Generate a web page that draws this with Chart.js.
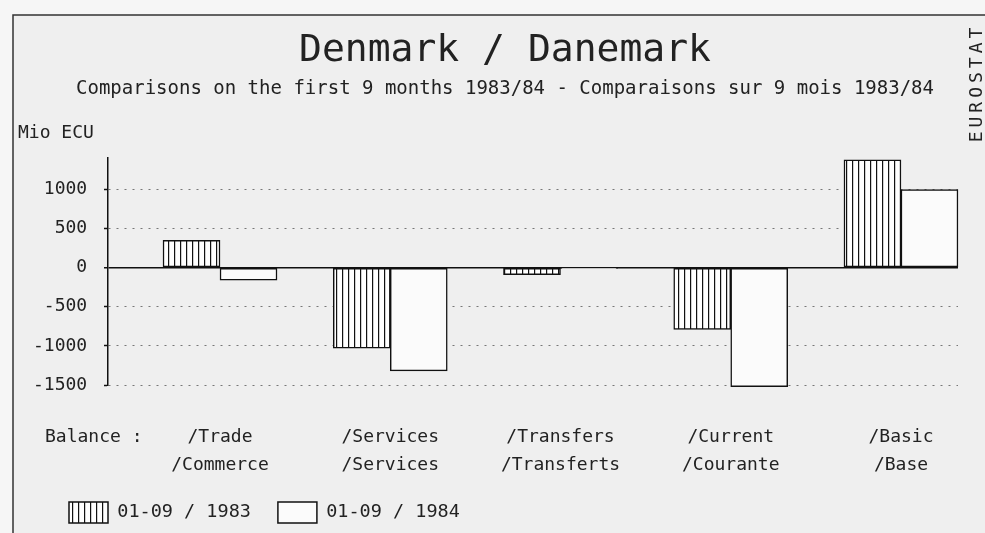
<!DOCTYPE html>
<html lang="en">
<head>
  <meta charset="UTF-8" />
  <title>Denmark / Danemark</title>
  <script src="https://cdn.jsdelivr.net/npm/chart.js"></script>
  <style>
    html, body { margin: 0; padding: 0; background: #f6f6f6; }
  </style>
</head>
<body>
<canvas id="balanceChart" width="985" height="533"></canvas>

<script>
// data (Mio ECU)
const categories = [
  ["/Trade", "/Commerce"],
  ["/Services", "/Services"],
  ["/Transfers", "/Transferts"],
  ["/Current", "/Courante"],
  ["/Basic", "/Base"]
];
const catPositions = [1, 2, 3, 4, 5];
const values1983 = [350, -1030, -90, -790, 1380];
const values1984 = [-160, -1320, -10, -1520, 1000];
const yTicks = [1000, 500, 0, -500, -1000, -1500];
const seriesLabels = ["01-09 / 1983", "01-09 / 1984"];

const MONO = '"DejaVu Sans Mono", "Liberation Mono", monospace';
const INK = '#222';

// vertical hatching for the 1983 bars
function hatch() {
  const c = document.createElement('canvas');
  c.width = 6; c.height = 6;
  const g = c.getContext('2d');
  g.fillStyle = '#fff';
  g.fillRect(0, 0, 6, 6);
  g.fillStyle = '#111';
  g.fillRect(0, 0, 1.2, 6);
  return g.createPattern(c, 'repeat');
}

// frame + loose texts that are not part of an axis
const extras = {
  id: 'extras',
  beforeDraw(chart) {
    const { ctx, width, height } = chart;
    ctx.save();
    ctx.fillStyle = '#f6f6f6';
    ctx.fillRect(0, 0, width, height);
    ctx.fillStyle = '#efefef';
    ctx.fillRect(13, 15, width - 13, height - 15);
    ctx.strokeStyle = '#333';
    ctx.lineWidth = 1.5;
    ctx.beginPath();
    ctx.moveTo(13, height);
    ctx.lineTo(13, 15);
    ctx.lineTo(width, 15);
    ctx.stroke();
    ctx.restore();
  },
  afterDraw(chart) {
    const ctx = chart.ctx;
    ctx.save();
    ctx.fillStyle = INK;
    ctx.font = '18px ' + MONO;
    ctx.textBaseline = 'middle';
    ctx.textAlign = 'left';
    ctx.fillText('Mio ECU', 18, 133);
    ctx.fillText('Balance :', 45, 437);

    ctx.translate(977, 83);
    ctx.rotate(-Math.PI / 2);
    ctx.textAlign = 'center';
    ctx.letterSpacing = '4px';
    ctx.fillText('EUROSTAT', 0, 0);
    ctx.restore();
  }
};

const ctx = document.getElementById('balanceChart').getContext('2d');
new Chart(ctx, {
  type: 'bar',
  data: {
    datasets: [
      {
        label: seriesLabels[0],
        data: catPositions.map((x, i) => ({ x, y: values1983[i] })),
        backgroundColor: hatch(),
        borderColor: '#111',
        borderWidth: 1.5,
        borderSkipped: false,
        barThickness: 57,
        clip: false
      },
      {
        label: seriesLabels[1],
        data: catPositions.map((x, i) => ({ x, y: values1984[i] })),
        backgroundColor: '#fbfbfb',
        borderColor: '#111',
        borderWidth: 1.5,
        borderSkipped: false,
        barThickness: 57,
        clip: false
      }
    ]
  },
  options: {
    responsive: false,
    animation: false,
    layout: { padding: { left: 42, right: 17, top: 10, bottom: 0 } },
    plugins: {
      title: {
        display: true,
        text: 'Denmark / Danemark',
        color: INK,
        font: { family: MONO, size: 38, weight: 'normal', lineHeight: 1.2 },
        padding: { top: 18, bottom: 0 }
      },
      subtitle: {
        display: true,
        text: 'Comparisons on the first 9 months 1983/84 - Comparaisons sur 9 mois 1983/84',
        color: INK,
        font: { family: MONO, size: 19, weight: 'normal', lineHeight: 1.2 },
        padding: { top: 4, bottom: 57 }
      },
      legend: {
        position: 'bottom',
        align: 'start',
        labels: {
          boxWidth: 39,
          boxHeight: 21,
          padding: 27,
          color: INK,
          font: { family: MONO, size: 18.5 }
        }
      },
      tooltip: { enabled: false }
    },
    scales: {
      x: {
        type: 'linear',
        offset: false,
        min: 0.342,
        max: 5.335,
        afterBuildTicks: s => { s.ticks = catPositions.map(v => ({ value: v })); },
        afterFit: s => { s.height = 90; },
        grid: { display: false, drawTicks: false, offset: false },
        border: { display: false },
        ticks: {
          autoSkip: false,
          maxRotation: 0,
          padding: 38,
          color: INK,
          font: { family: MONO, size: 18, lineHeight: 1.555 },
          callback: (v, i) => categories[i]
        }
      },
      y: {
        min: -1500,
        max: 1410,
        afterBuildTicks: s => { s.ticks = yTicks.map(v => ({ value: v })); },
        afterFit: s => { s.width = 66; },
        grid: {
          color: c => (c.tick && c.tick.value === 0) ? '#111' : '#777',
          lineWidth: c => (c.tick && c.tick.value === 0) ? 1.5 : 1,
          tickLength: 4,
          tickColor: '#111',
          tickWidth: 1.5,
          tickBorderDash: []
        },
        border: {
          display: true,
          color: '#111',
          width: 1.5,
          dash: c => (c.type === 'tick' && c.tick && c.tick.value !== 0) ? [2, 6] : []
        },
        ticks: {
          // mirrored + pulled back left so the labels are not clipped to the narrow axis box
          mirror: true,
          crossAlign: 'far',
          padding: -75,
          color: INK,
          font: { family: MONO, size: 18 },
          callback: v => String(v)
        }
      },
      // empty strip on the right so the plot stops where the original does
      yRight: {
        position: 'right',
        min: 0,
        max: 1,
        grid: { display: false, drawTicks: false },
        border: { display: false },
        ticks: { display: false },
        afterFit: s => { s.width = 10; }
      }
    }
  },
  plugins: [extras]
});
</script>
</body>
</html>
